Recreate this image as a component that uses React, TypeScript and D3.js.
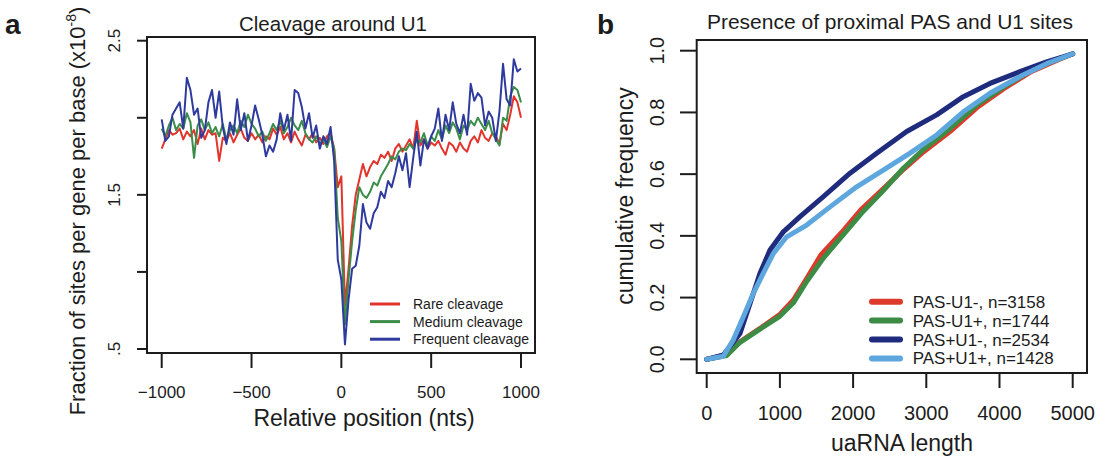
import React from "react";
import * as d3 from "d3";

// panel a: cleavage around U1, positions every 20 nts
const positions = d3.range(-1000, 1001, 20);

const rareCleavage = [
  1.80, 1.86, 1.92, 1.89, 1.90, 1.93, 1.86, 1.91, 1.88, 1.92,
  1.83, 1.93, 1.86, 1.92, 1.89, 1.90, 1.72, 1.87, 1.85, 1.90,
  1.84, 1.89, 1.93, 1.87, 1.85, 1.90, 1.86, 1.89, 1.84, 1.88,
  1.86, 1.93, 1.89, 1.94, 1.86, 1.90, 1.84, 1.91, 1.86, 1.82,
  1.89, 1.86, 1.90, 1.84, 1.87, 1.83, 1.88, 1.90, 1.80, 1.55,
  1.62, 0.78, 1.02, 1.30, 1.50, 1.60, 1.70, 1.62, 1.68, 1.72,
  1.70, 1.76, 1.74, 1.78, 1.72, 1.80, 1.83, 1.78, 1.82, 1.86,
  1.80, 1.98, 1.82, 1.86, 1.80, 1.84, 1.82, 1.85, 1.80, 1.76,
  1.84, 1.82, 1.78, 1.84, 1.80, 1.78, 1.85, 1.88, 1.84, 1.92,
  1.87, 1.85, 1.90, 1.88, 1.83, 1.96, 1.92, 2.02, 2.14, 2.10,
  2.00,
];

const mediumCleavage = [
  1.93, 1.88, 1.95, 2.00, 1.92, 1.96, 1.93, 2.03, 1.97, 1.74,
  1.95, 1.99, 1.92, 1.97, 1.90, 1.94, 1.88, 1.96, 1.86, 1.92,
  1.95, 1.90, 1.98, 1.94, 2.02, 1.96, 1.93, 1.88, 1.91, 1.85,
  1.90, 1.96, 1.92, 1.98, 1.90, 1.94, 2.00, 1.95, 1.92, 1.98,
  1.90, 1.86, 1.84, 1.88, 1.83, 1.86, 1.81, 1.88, 1.80, 1.35,
  1.20, 0.66, 0.95, 1.20, 1.40, 1.55, 1.50, 1.48, 1.52, 1.58,
  1.56, 1.62, 1.66, 1.70, 1.75, 1.73, 1.78, 1.80, 1.79, 1.83,
  1.80, 1.86, 1.84, 1.90, 1.82, 1.88, 1.85, 1.92, 1.86, 1.95,
  1.90, 1.97, 1.93, 1.86, 1.95, 1.92, 1.98, 1.95, 2.00, 1.96,
  1.92, 1.98, 1.90, 1.86, 1.82, 2.00, 1.98, 2.14, 2.20, 2.18,
  2.10,
];

const frequentCleavage = [
  1.99, 1.85, 1.88, 2.02, 2.06, 2.10, 1.93, 2.26, 2.18, 2.02,
  2.06, 1.87, 1.92, 2.10, 2.18, 2.00, 2.17, 1.94, 1.83, 1.97,
  1.89, 2.12, 1.92, 2.03, 1.85, 1.95, 2.08, 1.99, 1.89, 1.75,
  1.82, 1.78, 1.86, 2.03, 1.92, 2.02, 1.85, 2.18, 2.16, 2.07,
  1.93, 2.03, 1.87, 1.95, 1.80, 1.88, 1.83, 1.94, 1.72, 1.08,
  0.95, 0.53, 0.82, 1.02, 1.04, 1.17, 1.44, 1.32, 1.28, 1.38,
  1.42, 1.52, 1.48, 1.59, 1.55, 1.64, 1.75, 1.66, 1.77, 1.55,
  1.74, 1.91, 1.69, 1.86, 1.80, 1.88, 1.93, 2.06, 1.85, 2.02,
  1.92, 2.10, 1.96, 1.90, 2.02, 1.89, 2.22, 2.11, 2.16, 2.13,
  1.95, 2.04, 2.00, 1.85, 2.04, 2.35, 2.12, 2.08, 2.38, 2.30,
  2.32,
];

const seriesA = [
  { name: "Rare cleavage", values: rareCleavage, color: "#e3342c" },
  { name: "Medium cleavage", values: mediumCleavage, color: "#3a8c48" },
  { name: "Frequent cleavage", values: frequentCleavage, color: "#2f3a9e" },
];

const xTicksA = [-1000, -500, 0, 500, 1000];
const yTicksA = [0.5, 1, 1.5, 2, 2.5];
const yTickLabelsA = [".5", "", "1.5", "", "2.5"];

// panel b: cumulative frequency of uaRNA length
const pasU1minusLen = [0, 273, 455, 728, 1002, 1184, 1366, 1560, 1840, 2120, 2400, 2686, 2960, 3324, 3689, 4053, 4417, 4781, 5000];
const pasU1minusCum = [0, 0.014, 0.057, 0.100, 0.146, 0.192, 0.262, 0.338, 0.410, 0.488, 0.550, 0.615, 0.672, 0.738, 0.815, 0.876, 0.930, 0.968, 0.99];
const pasU1plusLen = [0, 273, 455, 728, 1002, 1184, 1366, 1594, 1867, 2140, 2413, 2686, 2960, 3324, 3689, 4053, 4417, 4781, 5000];
const pasU1plusCum = [0, 0.012, 0.055, 0.098, 0.140, 0.183, 0.252, 0.328, 0.404, 0.480, 0.547, 0.619, 0.680, 0.748, 0.824, 0.882, 0.934, 0.971, 0.99];
const pasPlusU1minusLen = [0, 227, 455, 592, 728, 865, 1047, 1275, 1594, 1958, 2322, 2732, 3142, 3506, 3870, 4280, 4644, 5000];
const pasPlusU1minusCum = [0, 0.014, 0.084, 0.181, 0.279, 0.354, 0.413, 0.462, 0.527, 0.603, 0.668, 0.738, 0.792, 0.851, 0.894, 0.932, 0.964, 0.99];
const pasPlusU1plusLen = [0, 227, 364, 501, 637, 774, 911, 1093, 1366, 1685, 2049, 2413, 2778, 3142, 3506, 3870, 4280, 4644, 5000];
const pasPlusU1plusCum = [0, 0.010, 0.063, 0.138, 0.214, 0.279, 0.343, 0.397, 0.435, 0.494, 0.559, 0.613, 0.668, 0.727, 0.802, 0.862, 0.916, 0.958, 0.99];

const seriesB = [
  { name: "PAS-U1-, n=3158", len: pasU1minusLen, cum: pasU1minusCum, color: "#de3a2c" },
  { name: "PAS-U1+, n=1744", len: pasU1plusLen, cum: pasU1plusCum, color: "#3d8c45" },
  { name: "PAS+U1-, n=2534", len: pasPlusU1minusLen, cum: pasPlusU1minusCum, color: "#1f2c7e" },
  { name: "PAS+U1+, n=1428", len: pasPlusU1plusLen, cum: pasPlusU1plusCum, color: "#5ea7de" },
];

const xTicksB = [0, 1000, 2000, 3000, 4000, 5000];
const yTicksB = [0, 0.2, 0.4, 0.6, 0.8, 1.0];

const FONT = "'Liberation Sans', Arial, Helvetica, sans-serif";
const INK = "#1c1c1c";

export default function App() {
  // panel a scales
  const xA = d3.scaleLinear().domain([-1000, 1000]).range([161.7, 521]);
  const yA = d3.scaleLinear().domain([0.5, 2.5]).range([349, 40.7]);
  const boxA = { x0: 147, x1: 535, y0: 37, y1: 353 };
  const lineA = d3.line<number>().x((d, i) => xA(positions[i])).y((d) => yA(d));

  // panel b scales
  const xB = d3.scaleLinear().domain([0, 5000]).range([706.7, 1072.7]);
  const yB = d3.scaleLinear().domain([0, 1]).range([359.3, 50.7]);
  const boxB = { x0: 696.7, x1: 1087, y0: 40, y1: 373 };

  return (
    <div style={{ position: "absolute", left: 0, top: 0 }}>
      <svg width={1101} height={457} style={{ display: "block", background: "#fff" }} fontFamily={FONT}>
        {/* ---------- panel a ---------- */}
        <text x={5} y={34} fontSize={28} fontWeight="bold" fill={INK}>a</text>
        <text x={333} y={31} fontSize={20.5} textAnchor="middle" fill={INK}>Cleavage around U1</text>

        <g>
          {seriesA.map((s) => (
            <path key={s.name} d={lineA(s.values) || ""} fill="none" stroke={s.color} strokeWidth={2} strokeLinejoin="round" />
          ))}
        </g>

        <rect x={boxA.x0} y={boxA.y0} width={boxA.x1 - boxA.x0} height={boxA.y1 - boxA.y0} fill="none" stroke={INK} strokeWidth={2} />

        {xTicksA.map((t) => (
          <g key={t}>
            <line x1={xA(t)} x2={xA(t)} y1={boxA.y1} y2={368} stroke={INK} strokeWidth={2} />
            <text x={xA(t)} y={398} fontSize={17} textAnchor="middle" fill={INK}>{d3.format("")(t).replace("-", "\u2212")}</text>
          </g>
        ))}
        {yTicksA.map((t, i) => (
          <g key={t}>
            <line x1={137} x2={boxA.x0} y1={yA(t)} y2={yA(t)} stroke={INK} strokeWidth={2} />
            <text transform={`translate(120,${yA(t)}) rotate(-90)`} fontSize={17} textAnchor="middle" fill={INK}>{yTickLabelsA[i]}</text>
          </g>
        ))}
        <text x={364} y={426} fontSize={23} textAnchor="middle" fill={INK}>Relative position (nts)</text>
        <text transform="translate(85,211) rotate(-90)" fontSize={22} textAnchor="middle" fill={INK}>
          Fraction of sites per gene per base (x10<tspan fontSize={14} dy={-9}>-8</tspan><tspan dy={9}>)</tspan>
        </text>

        {seriesA.map((s, i) => (
          <g key={s.name} transform={`translate(0,${304 + i * 17.6})`}>
            <line x1={370} x2={400} y1={0} y2={0} stroke={s.color} strokeWidth={3} />
            <text x={413} y={5} fontSize={14} fill={INK}>{s.name}</text>
          </g>
        ))}

        {/* ---------- panel b ---------- */}
        <text x={597} y={34} fontSize={28} fontWeight="bold" fill={INK}>b</text>
        <text x={890} y={29} fontSize={21} textAnchor="middle" fill={INK}>Presence of proximal PAS and U1 sites</text>

        <g>
          {seriesB.map((s) => {
            const pts = s.len.map((l, i) => [xB(l), yB(s.cum[i])] as [number, number]);
            return (
              <path key={s.name} d={d3.line()(pts) || ""} fill="none" stroke={s.color} strokeWidth={5} strokeLinejoin="round" strokeLinecap="round" />
            );
          })}
        </g>

        <rect x={boxB.x0} y={boxB.y0} width={boxB.x1 - boxB.x0} height={boxB.y1 - boxB.y0} fill="none" stroke={INK} strokeWidth={2} />

        {xTicksB.map((t) => (
          <g key={t}>
            <line x1={xB(t)} x2={xB(t)} y1={boxB.y1} y2={388} stroke={INK} strokeWidth={2} />
            <text x={xB(t)} y={420} fontSize={20} textAnchor="middle" fill={INK}>{t}</text>
          </g>
        ))}
        {yTicksB.map((t) => (
          <g key={t}>
            <line x1={680} x2={boxB.x0} y1={yB(t)} y2={yB(t)} stroke={INK} strokeWidth={2} />
            <text transform={`translate(664,${yB(t)}) rotate(-90)`} fontSize={20} textAnchor="middle" fill={INK}>{t.toFixed(1)}</text>
          </g>
        ))}
        <text x={902} y={451} fontSize={23} textAnchor="middle" fill={INK}>uaRNA length</text>
        <text transform="translate(633,196) rotate(-90)" fontSize={23} textAnchor="middle" fill={INK}>cumulative frequency</text>

        {seriesB.map((s, i) => (
          <g key={s.name} transform={`translate(0,${301.7 + i * 18.9})`}>
            <line x1={872} x2={900} y1={0} y2={0} stroke={s.color} strokeWidth={6} strokeLinecap="round" />
            <text x={912.7} y={6} fontSize={17} fill={INK}>{s.name}</text>
          </g>
        ))}
      </svg>
    </div>
  );
}
